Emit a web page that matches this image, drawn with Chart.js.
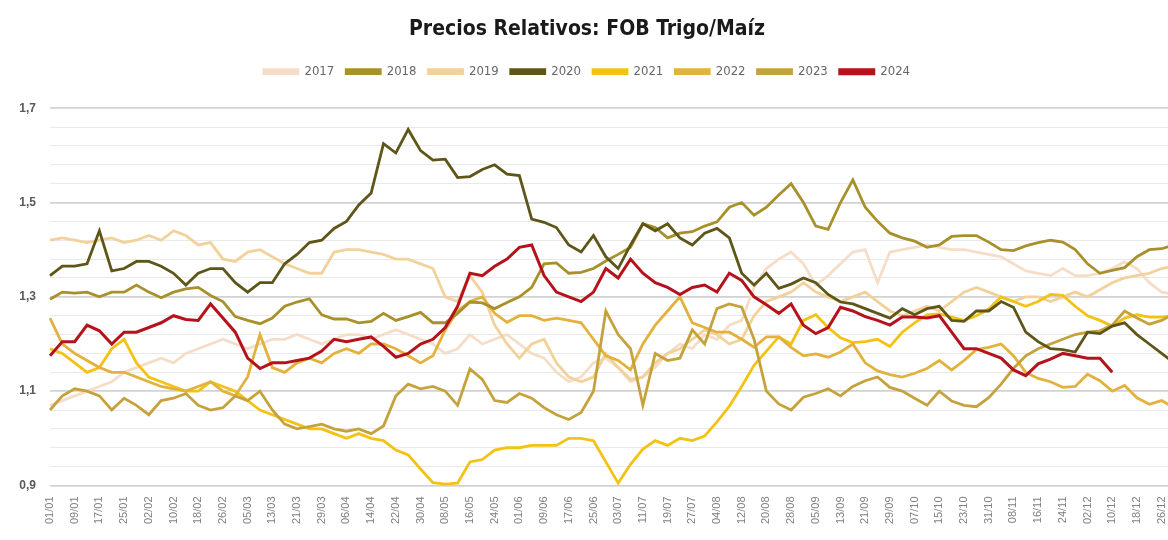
<!DOCTYPE html>
<html lang="es">
<head>
<meta charset="UTF-8">
<title>Precios Relativos: FOB Trigo/Maíz</title>
<script src="https://cdn.jsdelivr.net/npm/chart.js"></script>
<style>
    body {
        margin: 0;
        background: #ffffff;
        overflow: hidden;
    }
    /* el gráfico se corta a la derecha, igual que la imagen original */
    .chart-box {
        position: absolute;
        left: 0;
        top: 0;
        width: 1196px;
        height: 540px;
    }
</style>
</head>
<body>
<div class="chart-box">
    <canvas id="ratioChart"></canvas>
</div>

<script>
// fechas cada 4 días (año bisiesto), se muestra una de cada dos
const labels = [
    '01/01','05/01','09/01','13/01','17/01','21/01','25/01','29/01',
    '02/02','06/02','10/02','14/02','18/02','22/02','26/02',
    '01/03','05/03','09/03','13/03','17/03','21/03','25/03','29/03',
    '02/04','06/04','10/04','14/04','18/04','22/04','26/04','30/04',
    '04/05','08/05','12/05','16/05','20/05','24/05','28/05',
    '01/06','05/06','09/06','13/06','17/06','21/06','25/06','29/06',
    '03/07','07/07','11/07','15/07','19/07','23/07','27/07','31/07',
    '04/08','08/08','12/08','16/08','20/08','24/08','28/08',
    '01/09','05/09','09/09','13/09','17/09','21/09','25/09','29/09',
    '03/10','07/10','11/10','15/10','19/10','23/10','27/10','31/10',
    '04/11','08/11','12/11','16/11','20/11','24/11','28/11',
    '02/12','06/12','10/12','14/12','18/12','22/12','26/12','30/12'
];

const years = ['2017', '2018', '2019', '2020', '2021', '2022', '2023', '2024'];

const y2017 = [
    1.07, 1.08, 1.09, 1.10, 1.11, 1.12, 1.14, 1.15,
    1.16, 1.17, 1.16, 1.18, 1.19, 1.20, 1.21, 1.20,
    1.19, 1.20, 1.21, 1.21, 1.22, 1.21, 1.20, 1.21,
    1.22, 1.22, 1.21, 1.22, 1.23, 1.22, 1.21, 1.20,
    1.18, 1.19, 1.22, 1.20, 1.21, 1.22, 1.20, 1.18,
    1.17, 1.14, 1.12, 1.13, 1.16, 1.17, 1.15, 1.12,
    1.13, 1.15, 1.18, 1.20, 1.19, 1.22, 1.21, 1.24,
    1.25, 1.32, 1.36, 1.38, 1.395, 1.37, 1.325, 1.345,
    1.37, 1.395, 1.40, 1.33, 1.395, 1.40, 1.405, 1.41,
    1.405, 1.40, 1.40, 1.395, 1.39, 1.385, 1.37, 1.355,
    1.35, 1.345, 1.36, 1.345, 1.345, 1.35, 1.36, 1.374,
    1.36, 1.33, 1.31, 1.305
];

const y2018 = [
    1.295, 1.31, 1.308, 1.31, 1.30, 1.31, 1.31, 1.325,
    1.31, 1.298, 1.31, 1.317, 1.32, 1.303, 1.29, 1.258,
    1.25, 1.243, 1.255, 1.28, 1.289, 1.296, 1.262, 1.253,
    1.253, 1.245, 1.248, 1.265, 1.25, 1.258, 1.267, 1.245,
    1.245, 1.265, 1.289, 1.287, 1.275, 1.288, 1.30, 1.32,
    1.37, 1.372, 1.35, 1.352, 1.36, 1.376, 1.39, 1.405,
    1.455, 1.447, 1.425, 1.435, 1.438, 1.45, 1.459, 1.49,
    1.50, 1.473, 1.49, 1.516, 1.54, 1.50, 1.45, 1.443,
    1.50, 1.548, 1.49, 1.46, 1.435, 1.425, 1.418, 1.405,
    1.41, 1.428, 1.43, 1.43, 1.416, 1.40, 1.398, 1.408,
    1.415, 1.42, 1.416, 1.40, 1.37, 1.35, 1.356, 1.362,
    1.385, 1.40, 1.402, 1.41
];

const y2019 = [
    1.42, 1.425, 1.42, 1.415, 1.42, 1.425, 1.415, 1.42,
    1.43, 1.42, 1.44, 1.43, 1.41, 1.415, 1.38, 1.375,
    1.395, 1.40, 1.385, 1.37, 1.36, 1.35, 1.35, 1.395,
    1.40, 1.40, 1.395, 1.39, 1.38, 1.38, 1.37, 1.36,
    1.30, 1.29, 1.345, 1.31, 1.24, 1.20, 1.17, 1.20,
    1.21, 1.16, 1.13, 1.12, 1.13, 1.18, 1.15, 1.125,
    1.13, 1.16, 1.18, 1.19, 1.21, 1.23, 1.22, 1.20,
    1.21, 1.26, 1.29, 1.30, 1.31, 1.33, 1.31, 1.30,
    1.29, 1.30, 1.31, 1.29, 1.27, 1.26, 1.27, 1.28,
    1.27, 1.29, 1.31, 1.32, 1.31, 1.30, 1.29, 1.30,
    1.30, 1.29, 1.30, 1.31, 1.30, 1.315, 1.33, 1.34,
    1.345, 1.35, 1.36, 1.365
];

const y2020 = [
    1.345, 1.365, 1.365, 1.37, 1.44, 1.355, 1.36, 1.375,
    1.375, 1.365, 1.35, 1.325, 1.35, 1.36, 1.36, 1.33,
    1.31, 1.33, 1.33, 1.37, 1.39, 1.415, 1.42, 1.445,
    1.46, 1.495, 1.52, 1.625, 1.605, 1.655, 1.61, 1.59,
    1.592, 1.553, 1.555, 1.57, 1.58, 1.56, 1.557, 1.465,
    1.458, 1.447, 1.41, 1.395, 1.43, 1.385, 1.36, 1.41,
    1.455, 1.44, 1.455, 1.425, 1.41, 1.435, 1.445, 1.425,
    1.35, 1.325, 1.35, 1.318, 1.327, 1.34, 1.33, 1.305,
    1.289, 1.285, 1.275, 1.265, 1.255, 1.275, 1.262, 1.275,
    1.28, 1.25, 1.248, 1.27, 1.27, 1.29, 1.278, 1.225,
    1.205, 1.19, 1.188, 1.183, 1.225, 1.222, 1.238, 1.245,
    1.22, 1.20, 1.18, 1.16
];

const y2021 = [
    1.19, 1.18, 1.16, 1.14, 1.15, 1.19, 1.21, 1.16,
    1.13, 1.12, 1.11, 1.10, 1.10, 1.12, 1.11, 1.10,
    1.08, 1.06, 1.05, 1.04, 1.03, 1.02, 1.02, 1.01,
    1.00, 1.01, 1.00, 0.995, 0.975, 0.965, 0.935, 0.906,
    0.903, 0.905, 0.95, 0.955, 0.975, 0.98, 0.98, 0.985,
    0.985, 0.985, 1.00, 1.00, 0.995, 0.95, 0.905, 0.945,
    0.977, 0.995, 0.985, 1.00, 0.995, 1.005, 1.035, 1.068,
    1.11, 1.155, 1.185, 1.215, 1.20, 1.25, 1.262, 1.235,
    1.213, 1.203, 1.205, 1.21, 1.195, 1.225, 1.245, 1.262,
    1.264, 1.257, 1.25, 1.26, 1.274, 1.30, 1.29, 1.28,
    1.29, 1.305, 1.303, 1.28, 1.26, 1.25, 1.238, 1.255,
    1.262, 1.257, 1.257, 1.26
];

const y2022 = [
    1.255, 1.20, 1.18, 1.165, 1.15, 1.14, 1.14, 1.13,
    1.12, 1.11, 1.105, 1.10, 1.11, 1.12, 1.10, 1.09,
    1.13, 1.22, 1.15, 1.14, 1.16, 1.17, 1.16, 1.18,
    1.19, 1.18, 1.20, 1.20, 1.19, 1.175, 1.16, 1.175,
    1.23, 1.27, 1.29, 1.30, 1.265, 1.246, 1.26, 1.26,
    1.25, 1.255, 1.25, 1.245, 1.21, 1.175, 1.165, 1.145,
    1.20, 1.24, 1.27, 1.30, 1.245, 1.235, 1.225, 1.225,
    1.21, 1.193, 1.215, 1.215, 1.193, 1.175, 1.179, 1.172,
    1.183, 1.20, 1.16, 1.143, 1.135, 1.13, 1.138, 1.148,
    1.165, 1.145, 1.165, 1.188, 1.193, 1.20, 1.175, 1.14,
    1.127, 1.12, 1.108, 1.11, 1.136, 1.122, 1.10, 1.112,
    1.086, 1.072, 1.08, 1.065
];

const y2023 = [
    1.06, 1.09, 1.105, 1.10, 1.09, 1.06, 1.085, 1.07,
    1.05, 1.08, 1.085, 1.095, 1.07, 1.06, 1.065, 1.09,
    1.08, 1.10, 1.06, 1.03, 1.02, 1.025, 1.03, 1.02,
    1.015, 1.02, 1.01, 1.026, 1.09, 1.115, 1.105, 1.11,
    1.10, 1.07, 1.147, 1.125, 1.08, 1.076, 1.095, 1.085,
    1.065, 1.05, 1.04, 1.055, 1.10, 1.27, 1.22, 1.19,
    1.07, 1.18, 1.165, 1.17, 1.23, 1.20, 1.275, 1.285,
    1.278, 1.21, 1.10, 1.073, 1.06, 1.087, 1.095, 1.105,
    1.09, 1.11, 1.122, 1.13, 1.108, 1.10, 1.085, 1.07,
    1.10, 1.079, 1.07, 1.067, 1.086, 1.115, 1.148, 1.175,
    1.19, 1.20, 1.21, 1.22, 1.225, 1.228, 1.24, 1.27,
    1.255, 1.242, 1.25, 1.264
];

// 2024 llega hasta el 10/12
const y2024 = [
    1.175, 1.205, 1.205, 1.24, 1.228, 1.20, 1.225, 1.225,
    1.235, 1.245, 1.26, 1.252, 1.25, 1.285, 1.255, 1.225,
    1.17, 1.148, 1.16, 1.16, 1.165, 1.17, 1.185, 1.21,
    1.205, 1.21, 1.215, 1.195, 1.172, 1.18, 1.20, 1.21,
    1.235, 1.28, 1.35, 1.345, 1.365, 1.38, 1.405, 1.41,
    1.345, 1.31, 1.30, 1.29, 1.31, 1.36, 1.34, 1.38,
    1.35, 1.33, 1.32, 1.305, 1.32, 1.325, 1.31, 1.35,
    1.335, 1.30, 1.283, 1.265, 1.285, 1.24, 1.222, 1.235,
    1.278, 1.27, 1.258, 1.25, 1.24, 1.257, 1.257, 1.255,
    1.26, 1.225, 1.19, 1.19, 1.18, 1.17, 1.145, 1.133,
    1.158, 1.168, 1.18, 1.175, 1.17, 1.17, 1.14
];

const series = [y2017, y2018, y2019, y2020, y2021, y2022, y2023, y2024];
const colors = ['#f6ddc8', '#a8902a', '#f2d19a', '#5e5619', '#f4c214', '#e3b23c', '#c6a23c', '#b5121b'];
// orden de dibujo: 2024 arriba de todo
const drawOrder = [7, 2, 6, 1, 5, 4, 3, 0];

// marcas del eje y cada 0,02
const yTicks = [];
for (let k = 0; k <= 40; k++) {
    yTicks.push(Math.round((0.9 + k * 0.02) * 100) / 100);
}

function isMajor(v) {
    return Math.round(v * 100) % 10 === 0;
}

// deja más aire entre la leyenda y el área del gráfico
const legendSpace = {
    id: 'legendSpace',
    beforeInit(chart) {
        const fit = chart.legend.fit;
        chart.legend.fit = function () {
            fit.bind(chart.legend)();
            this.height += 20;
        };
    }
};

const ctx = document.getElementById('ratioChart').getContext('2d');

new Chart(ctx, {
    type: 'line',
    data: {
        labels: labels,
        datasets: years.map((y, i) => ({
            label: y,
            data: series[i],
            borderColor: colors[i],
            backgroundColor: colors[i],
            borderWidth: i === 7 ? 3 : 2.8,
            pointRadius: 0,
            tension: 0,
            order: drawOrder[i]
        }))
    },
    plugins: [legendSpace],
    options: {
        responsive: true,
        maintainAspectRatio: false,
        animation: false,
        layout: {
            padding: { left: 0, right: 22, top: 0, bottom: 13 }
        },
        plugins: {
            title: {
                display: true,
                text: 'Precios Relativos: FOB Trigo/Maíz',
                color: '#1a1a1a',
                font: { family: "'Liberation Sans Narrow', 'DejaVu Sans Condensed', sans-serif", size: 21, weight: 'bold' },
                padding: { top: 17, bottom: 11 }
            },
            legend: {
                display: true,
                labels: {
                    boxWidth: 34,
                    boxHeight: 4,
                    padding: 12,
                    color: '#666666',
                    font: { family: "'Liberation Sans Narrow', 'DejaVu Sans Condensed', sans-serif", size: 13 },
                    sort: (a, b) => a.datasetIndex - b.datasetIndex
                }
            },
            tooltip: { enabled: false }
        },
        scales: {
            x: {
                grid: { display: false },
                border: { display: false },
                ticks: {
                    autoSkip: false,
                    maxRotation: 90,
                    minRotation: 90,
                    color: '#808080',
                    font: { family: "'Liberation Sans', sans-serif", size: 11 },
                    callback: function (value, index) {
                        return index % 2 === 0 ? labels[index] : '';
                    }
                }
            },
            y: {
                min: 0.9,
                max: 1.7,
                afterBuildTicks: (scale) => {
                    scale.ticks = yTicks.map(v => ({ value: v }));
                },
                afterFit: (scale) => {
                    scale.width = 50;
                },
                border: { display: false },
                grid: {
                    drawTicks: false,
                    color: (c) => isMajor(c.tick.value) ? '#d2d2d2' : '#e9e9e9',
                    lineWidth: (c) => isMajor(c.tick.value) ? 1.8 : 1
                },
                ticks: {
                    padding: 14,
                    color: '#595959',
                    font: { family: "'Liberation Sans', sans-serif", size: 12, weight: 'bold' },
                    callback: function (value) {
                        if (!isMajor(value)) return '';
                        return (Math.round(value * 10) / 10).toString().replace('.', ',');
                    }
                }
            }
        }
    }
});
</script>
</body>
</html>
